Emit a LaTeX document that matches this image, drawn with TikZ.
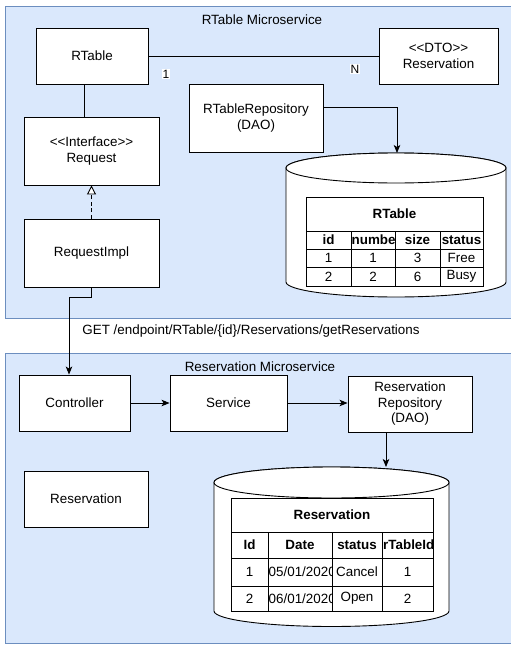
\documentclass[tikz,border=0pt]{standalone}
\usepackage{fontspec}
\setmainfont{Liberation Sans}[Ligatures=TeXOff]
\usetikzlibrary{arrows.meta}
\definecolor{panelfill}{HTML}{DAE8FC}
\definecolor{panelline}{HTML}{6C8EBF}
\begin{document}
\begin{tikzpicture}[x=1pt,y=-1pt,
  txt/.style={font=\fontsize{13.4}{15.5}\selectfont, align=center, inner sep=0pt},
  bold/.style={txt, font=\fontsize{13.4}{15.5}\selectfont\bfseries},
  box/.style 2 args={txt, draw=black, fill=white, line width=0.9pt,
    minimum width=#1pt, minimum height=#2pt},
  panel/.style={fill=panelfill, draw=panelline, line width=1pt},
  line/.style={draw=black, line width=0.9pt},
  arr/.style={line, -{Stealth[length=8pt,width=6.5pt,inset=2pt]}},
  realize/.style={line, dash pattern=on 4pt off 2.5pt,
    -{Triangle[open,length=9pt,width=9pt,fill=white]}},
  lbl/.style={font=\fontsize{12}{14}\selectfont, fill=white, inner sep=0.6pt},
  cyl/.style={fill=white, draw=black, line width=0.9pt},
  grid/.style={draw=black, line width=0.9pt}]

\useasboundingbox (0,0) rectangle (511,645);

% ---------- RTable microservice ----------
\draw[panel] (5,6) rectangle (513,318);
\node[txt] (ttl1) at (262,20) {RTable Microservice};

\node[box={112}{56}] (rtable) at (92,56) {RTable};
\node[box={119}{56}] (dto) at (438.5,56) {<<DTO>>\\Reservation};
\node[box={134}{68}] (repo1) at (256,118) {RTableRepository\\(DAO)};
\node[box={135}{68}] (request) at (91.5,151) {<<Interface>>\\Request};
\node[box={135}{68}] (impl) at (91.5,253) {RequestImpl};

% association RTable 1 -- N Reservation
\draw[line] (rtable.east) -- (dto.west);
\node[lbl] (one) at (166,74) {1};
\node[lbl] (many) at (355,69) {N};

% RTable -- Request
\draw[line] ([xshift=-8pt]rtable.south) -- ([xshift=-8pt]rtable.south |- request.north);

% RequestImpl realizes Request
\draw[realize] (impl.north) -- (request.south);

% RTable database
\path[cyl] (286,168) -- (286,282)
  arc[start angle=180, end angle=0, x radius=110, y radius=15]
  -- (506,168)
  arc[start angle=0, end angle=-180, x radius=110, y radius=15] -- cycle;
\draw[cyl] (396,168) ellipse[x radius=110, y radius=15];
\coordinate (db1top) at (397,153);

\draw[arr] ([yshift=11pt]repo1.east) -| (db1top);

% RTable data table
\draw[grid, fill=white] (306,197) rectangle (483,286);
\foreach \yy in {231,249,267} \draw[grid] (306,\yy) -- (483,\yy);
\foreach \xx in {351,395,440} \draw[grid] (\xx,231) -- (\xx,286);
\node[bold] (t1title) at (394.5,214) {RTable};
\node[bold] (t1h1) at (328.5,240) {id};
\begin{scope}
  \clip (351,231) rectangle (395,249);
  \node[bold, anchor=west] (t1h2) at (351.5,240) {number};
\end{scope}
\node[bold] (t1h3) at (417.5,240) {size};
\node[bold] (t1h4) at (461.5,240) {status};
\node[txt] (t1a1) at (328.5,258) {1};
\node[txt] (t1a2) at (373,258) {1};
\node[txt] (t1a3) at (417.5,258) {3};
\node[txt] (t1a4) at (461.5,258) {Free};
\node[txt] (t1b1) at (328.5,276.5) {2};
\node[txt] (t1b2) at (373,276.5) {2};
\node[txt] (t1b3) at (417.5,276.5) {6};
\node[txt] (t1b4) at (461.5,276.5) {Busy};

% ---------- call between services ----------
\node[txt] (get) at (251,331) {GET /endpoint/RTable/\{id\}/Reservations/getReservations};

% ---------- Reservation microservice ----------
\draw[panel] (5,353) rectangle (513,643);
\node[txt] (ttl2) at (260,367) {Reservation Microservice};

\node[box={111}{56}] (ctrl) at (74.5,403) {Controller};
\node[box={117}{56}] (svc) at (228.5,403) {Service};
\node[box={124}{56}] (repo2) at (410,404) {Reservation\\Repository\\(DAO)};
\node[box={124}{56}] (resv) at (86,499) {Reservation};

\coordinate (ctrlin) at ([xshift=-5.5pt]ctrl.north);
\draw[arr] (impl.south) -- ++(0,10) -| (ctrlin);

\draw[arr] (ctrl.east) -- (svc.west);
\draw[arr] (svc.east) -- (svc.east -| repo2.west);

% Reservation database
\path[cyl] (214,482.5) -- (214,611)
  arc[start angle=180, end angle=0, x radius=117.5, y radius=15.5]
  -- (449,482.5)
  arc[start angle=0, end angle=-180, x radius=117.5, y radius=15.5] -- cycle;
\draw[cyl] (331.5,482.5) ellipse[x radius=117.5, y radius=15.5];
\coordinate (db2top) at (386,467);

\draw[arr] (repo2.south -| db2top) -- (db2top);

% Reservation data table
\draw[grid, fill=white] (231,498) rectangle (433,611);
\foreach \yy in {532,558,586} \draw[grid] (231,\yy) -- (433,\yy);
\foreach \xx in {268,332,382} \draw[grid] (\xx,532) -- (\xx,611);
\node[bold] (t2title) at (332,515) {Reservation};
\node[bold] (t2h1) at (249.5,545) {Id};
\node[bold] (t2h2) at (300,545) {Date};
\node[bold] (t2h3) at (357,545) {status};
\begin{scope}
  \clip (382,532) rectangle (433,558);
  \node[bold, anchor=west] (t2h4) at (383,545) {rTableId};
\end{scope}
\node[txt] (t2a1) at (249.5,572) {1};
\begin{scope}
  \clip (268,558) rectangle (332,586);
  \node[txt, anchor=west] (t2a2) at (268.5,572) {05/01/2020};
\end{scope}
\node[txt] (t2a3) at (357,572) {Cancel};
\node[txt] (t2a4) at (407.5,572) {1};
\node[txt] (t2b1) at (249.5,598.5) {2};
\begin{scope}
  \clip (268,586) rectangle (332,611);
  \node[txt, anchor=west] (t2b2) at (268.5,598.5) {06/01/2020};
\end{scope}
\node[txt] (t2b3) at (357,598.5) {Open};
\node[txt] (t2b4) at (407.5,598.5) {2};

\end{tikzpicture}
\end{document}
